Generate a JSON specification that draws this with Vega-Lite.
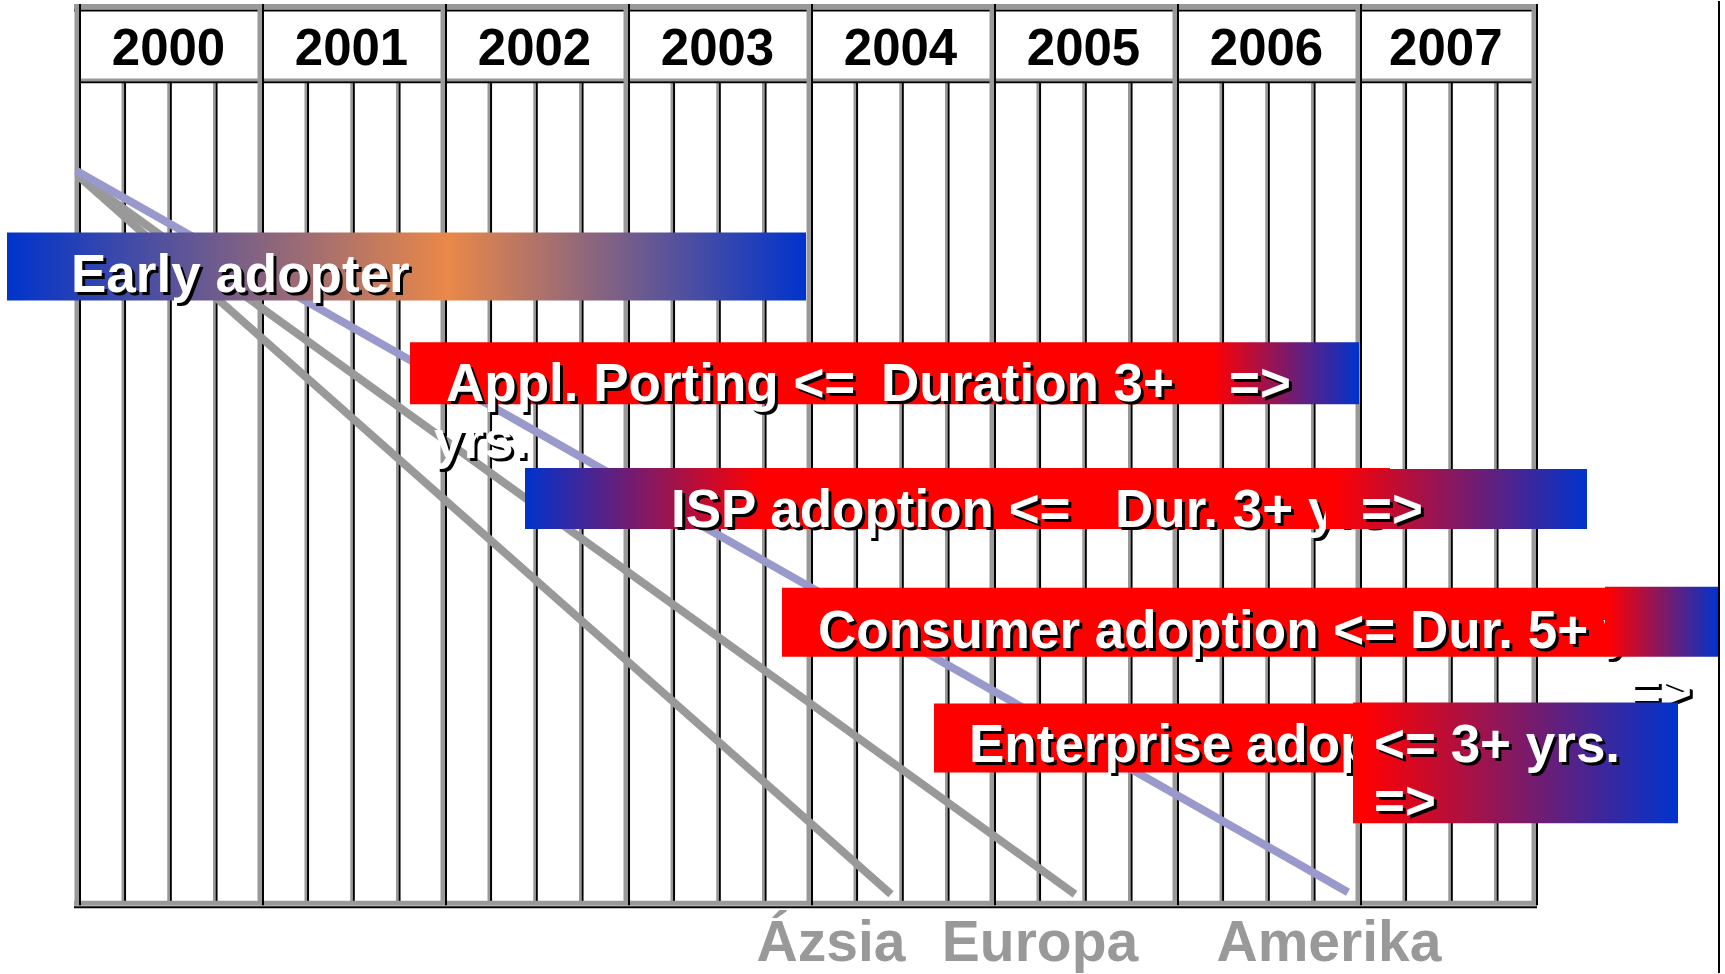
{
  "$schema": "https://vega.github.io/schema/vega-lite/v6.json",
  "width": 1725,
  "height": 974,
  "autosize": {"type": "fit", "contains": "padding"},
  "padding": 0,
  "background": "white",
  "config": {"view": {"stroke": null}},
  "datasets": {
    "borderH": [
      {"x": 1999.9836, "x2": 2007.9781, "y": 0.55},
      {"x": 1999.9836, "x2": 2007.9781, "y": 90.4}
    ],
    "headerH": [
      {"x": 2000, "x2": 2007.9617, "y": 7.9}
    ],
    "yearLines": [
      {"x": 2000, "y": 0.3, "y2": 90.6},
      {"x": 2001, "y": 0.3, "y2": 90.6},
      {"x": 2002, "y": 0.3, "y2": 90.6},
      {"x": 2003, "y": 0.3, "y2": 90.6},
      {"x": 2004, "y": 0.3, "y2": 90.6},
      {"x": 2005, "y": 0.3, "y2": 90.6},
      {"x": 2006, "y": 0.3, "y2": 90.6},
      {"x": 2007, "y": 0.3, "y2": 90.6},
      {"x": 2007.9617, "y": 0.3, "y2": 90.6}
    ],
    "quarterLines": [
      {"x": 2000.25, "y": 8.1, "y2": 90.2}, {"x": 2000.5, "y": 8.1, "y2": 90.2}, {"x": 2000.75, "y": 8.1, "y2": 90.2},
      {"x": 2001.25, "y": 8.1, "y2": 90.2}, {"x": 2001.5, "y": 8.1, "y2": 90.2}, {"x": 2001.75, "y": 8.1, "y2": 90.2},
      {"x": 2002.25, "y": 8.1, "y2": 90.2}, {"x": 2002.5, "y": 8.1, "y2": 90.2}, {"x": 2002.75, "y": 8.1, "y2": 90.2},
      {"x": 2003.25, "y": 8.1, "y2": 90.2}, {"x": 2003.5, "y": 8.1, "y2": 90.2}, {"x": 2003.75, "y": 8.1, "y2": 90.2},
      {"x": 2004.25, "y": 8.1, "y2": 90.2}, {"x": 2004.5, "y": 8.1, "y2": 90.2}, {"x": 2004.75, "y": 8.1, "y2": 90.2},
      {"x": 2005.25, "y": 8.1, "y2": 90.2}, {"x": 2005.5, "y": 8.1, "y2": 90.2}, {"x": 2005.75, "y": 8.1, "y2": 90.2},
      {"x": 2006.25, "y": 8.1, "y2": 90.2}, {"x": 2006.5, "y": 8.1, "y2": 90.2}, {"x": 2006.75, "y": 8.1, "y2": 90.2},
      {"x": 2007.25, "y": 8.1, "y2": 90.2}, {"x": 2007.5, "y": 8.1, "y2": 90.2}, {"x": 2007.75, "y": 8.1, "y2": 90.2}
    ],
    "yearLabels": [
      {"x": 2000.5, "y": 6.4, "label": "2000"},
      {"x": 2001.5, "y": 6.4, "label": "2001"},
      {"x": 2002.5, "y": 6.4, "label": "2002"},
      {"x": 2003.5, "y": 6.4, "label": "2003"},
      {"x": 2004.5, "y": 6.4, "label": "2004"},
      {"x": 2005.5, "y": 6.4, "label": "2005"},
      {"x": 2006.5, "y": 6.4, "label": "2006"},
      {"x": 2007.48, "y": 6.4, "label": "2007"}
    ],
    "adoptionLines": [
      {"region": "Ázsia", "x": 2000.0054, "y": 17.5},
      {"region": "Ázsia", "x": 2004.4481, "y": 89.5},
      {"region": "Europa", "x": 2000.0054, "y": 17.5},
      {"region": "Europa", "x": 2005.4535, "y": 89.5},
      {"region": "Amerika", "x": 1999.9954, "y": 17.0},
      {"region": "Amerika", "x": 2006.9453, "y": 89.3}
    ],
    "solidBars": [
      {"phase": "Consumer adoption", "x": 2003.8524, "x2": 2008.377, "y": 58.8, "y2": 65.7},
      {"phase": "Enterprise adoption", "x": 2004.683, "x2": 2007.0109, "y": 70.4, "y2": 77.3}
    ],
    "tailBars": [
      {"phase": "ISP adoption", "x": 2006.8251, "x2": 2008.2513, "y": 46.9, "y2": 52.9},
      {"phase": "Consumer adoption", "x": 2008.3497, "x2": 2008.9672, "y": 58.7, "y2": 65.7},
      {"phase": "Enterprise adoption", "x": 2006.9726, "x2": 2008.7486, "y": 70.3, "y2": 82.4}
    ],
    "texts1": [
      {"x": 1999.9672, "y": 29.2, "label": "Early adopter"},
      {"x": 2002.0164, "y": 40.1, "label": "Appl. Porting <="},
      {"x": 2004.3934, "y": 40.1, "label": "Duration 3+"},
      {"x": 2006.295, "y": 40.1, "label": "=>"},
      {"x": 2001.9508, "y": 45.8, "label": "yrs."},
      {"x": 2003.2459, "y": 52.7, "label": "ISP adoption <="},
      {"x": 2005.6721, "y": 52.7, "label": "Dur. 3+ yrs"},
      {"x": 2004.0491, "y": 64.8, "label": "Consumer adoption <="},
      {"x": 2007.2841, "y": 64.8, "label": "Dur. 5+ yrs."},
      {"x": 2008.4863, "y": 70.9, "label": "=>"},
      {"x": 2004.8743, "y": 76.3, "label": "Enterprise adoption"}
    ],
    "texts2": [
      {"x": 2007.0164, "y": 52.7, "label": "=>"},
      {"x": 2007.0874, "y": 76.3, "label": "<= 3+ yrs."},
      {"x": 2007.0874, "y": 82.0, "label": "=>"}
    ],
    "regionLabels": [
      {"x": 2004.1202, "y": 96.2, "label": "Ázsia"},
      {"x": 2005.2623, "y": 96.2, "label": "Europa"},
      {"x": 2006.8415, "y": 96.2, "label": "Amerika"}
    ],
    "edge": [
      {"x": 2008.9726, "y": 0, "y2": 97.4}
    ]
  },
  "encoding": {
    "x": {"field": "x", "type": "quantitative", "scale": {"domain": [1999.5792, 2009.0054], "nice": false, "zero": false}, "axis": null},
    "y": {"field": "y", "type": "quantitative", "scale": {"domain": [0, 97.4], "nice": false, "zero": false, "reverse": true}, "axis": null}
  },
  "layer": [
    {"data": {"name": "quarterLines"}, "mark": {"type": "rule", "stroke": "#999999", "strokeWidth": 2.5}, "encoding": {"y2": {"field": "y2"}}},
    {"data": {"name": "quarterLines"}, "mark": {"type": "rule", "stroke": "#000000", "strokeWidth": 2, "xOffset": 2.3}, "encoding": {"y2": {"field": "y2"}}},
    {"data": {"name": "headerH"}, "mark": {"type": "rule", "stroke": "#999999", "strokeWidth": 2.5}, "encoding": {"x2": {"field": "x2"}}},
    {"data": {"name": "headerH"}, "mark": {"type": "rule", "stroke": "#000000", "strokeWidth": 2, "yOffset": 2.3}, "encoding": {"x2": {"field": "x2"}}},
    {"data": {"name": "borderH"}, "mark": {"type": "rule", "stroke": "#000000", "strokeWidth": 2, "yOffset": 4}, "encoding": {"x2": {"field": "x2"}}},
    {"data": {"name": "borderH"}, "mark": {"type": "rule", "stroke": "#999999", "strokeWidth": 5}, "encoding": {"x2": {"field": "x2"}}},
    {"data": {"name": "yearLines"}, "mark": {"type": "rule", "stroke": "#999999", "strokeWidth": 5}, "encoding": {"y2": {"field": "y2"}}},
    {"data": {"name": "yearLines"}, "mark": {"type": "rule", "stroke": "#000000", "strokeWidth": 2, "xOffset": 3}, "encoding": {"y2": {"field": "y2"}}},
    {"data": {"name": "yearLabels"}, "mark": {"type": "text", "align": "center", "baseline": "alphabetic", "font": "Liberation Sans", "fontWeight": "bold", "fontSize": 51, "fill": "#000000"}, "encoding": {"text": {"field": "label"}}},
    {"data": {"name": "adoptionLines"}, "mark": {"type": "line", "strokeWidth": 8, "strokeCap": "butt"}, "encoding": {"color": {"field": "region", "type": "nominal", "scale": {"domain": ["Ázsia", "Europa", "Amerika"], "range": ["#999999", "#999999", "#9999cc"]}, "legend": null}}},
    {"data": {"values": [{"phase": "Early adopter", "x": 1999.6175, "x2": 2003.9836, "y": 23.2, "y2": 30.0}]},
     "mark": {"type": "rect", "fill": {"gradient": "linear", "x1": 0, "y1": 0, "x2": 1, "y2": 0, "stops": [{"offset": 0, "color": "#0033cc"}, {"offset": 0.552, "color": "#ea8848"}, {"offset": 1, "color": "#0033cc"}]}},
     "encoding": {"x2": {"field": "x2"}, "y2": {"field": "y2"}}},
    {"data": {"values": [{"phase": "Appl. Porting", "x": 2001.8196, "x2": 2007.0054, "y": 34.2, "y2": 40.4}]},
     "mark": {"type": "rect", "fill": {"gradient": "linear", "x1": 0, "y1": 0, "x2": 1, "y2": 0, "stops": [{"offset": 0, "color": "#ff0000"}, {"offset": 0.845, "color": "#ff0000"}, {"offset": 1, "color": "#0033cc"}]}},
     "encoding": {"x2": {"field": "x2"}, "y2": {"field": "y2"}}},
    {"data": {"values": [{"phase": "ISP adoption", "x": 2002.4481, "x2": 2007.1748, "y": 46.8, "y2": 52.9}]},
     "mark": {"type": "rect", "fill": {"gradient": "linear", "x1": 0, "y1": 0, "x2": 1, "y2": 0, "stops": [{"offset": 0, "color": "#0033cc"}, {"offset": 0.273, "color": "#ff0000"}, {"offset": 1, "color": "#ff0000"}]}},
     "encoding": {"x2": {"field": "x2"}, "y2": {"field": "y2"}}},
    {"data": {"name": "solidBars"}, "mark": {"type": "rect", "fill": "#ff0000"}, "encoding": {"x2": {"field": "x2"}, "y2": {"field": "y2"}}},
    {"data": {"name": "texts1"}, "mark": {"type": "text", "align": "left", "baseline": "alphabetic", "font": "Liberation Sans", "fontWeight": "bold", "fontSize": 53, "fill": "#000000", "dx": 3, "dy": 3}, "encoding": {"text": {"field": "label"}}},
    {"data": {"name": "texts1"}, "mark": {"type": "text", "align": "left", "baseline": "alphabetic", "font": "Liberation Sans", "fontWeight": "bold", "fontSize": 53, "fill": "#ffffff"}, "encoding": {"text": {"field": "label"}}},
    {"data": {"name": "tailBars"},
     "mark": {"type": "rect", "fill": {"gradient": "linear", "x1": 0, "y1": 0, "x2": 1, "y2": 0, "stops": [{"offset": 0, "color": "#ff0000"}, {"offset": 0.03, "color": "#ff0000"}, {"offset": 1, "color": "#0033cc"}]}},
     "encoding": {"x2": {"field": "x2"}, "y2": {"field": "y2"}}},
    {"data": {"name": "texts2"}, "mark": {"type": "text", "align": "left", "baseline": "alphabetic", "font": "Liberation Sans", "fontWeight": "bold", "fontSize": 53, "fill": "#000000", "dx": 3, "dy": 3}, "encoding": {"text": {"field": "label"}}},
    {"data": {"name": "texts2"}, "mark": {"type": "text", "align": "left", "baseline": "alphabetic", "font": "Liberation Sans", "fontWeight": "bold", "fontSize": 53, "fill": "#ffffff"}, "encoding": {"text": {"field": "label"}}},
    {"data": {"name": "regionLabels"}, "mark": {"type": "text", "align": "center", "baseline": "alphabetic", "font": "Liberation Sans", "fontWeight": "bold", "fontSize": 57, "fill": "#999999"}, "encoding": {"text": {"field": "label"}}},
    {"data": {"name": "edge"}, "mark": {"type": "rule", "stroke": "#000000", "strokeWidth": 2}, "encoding": {"y2": {"field": "y2"}}}
  ]
}
